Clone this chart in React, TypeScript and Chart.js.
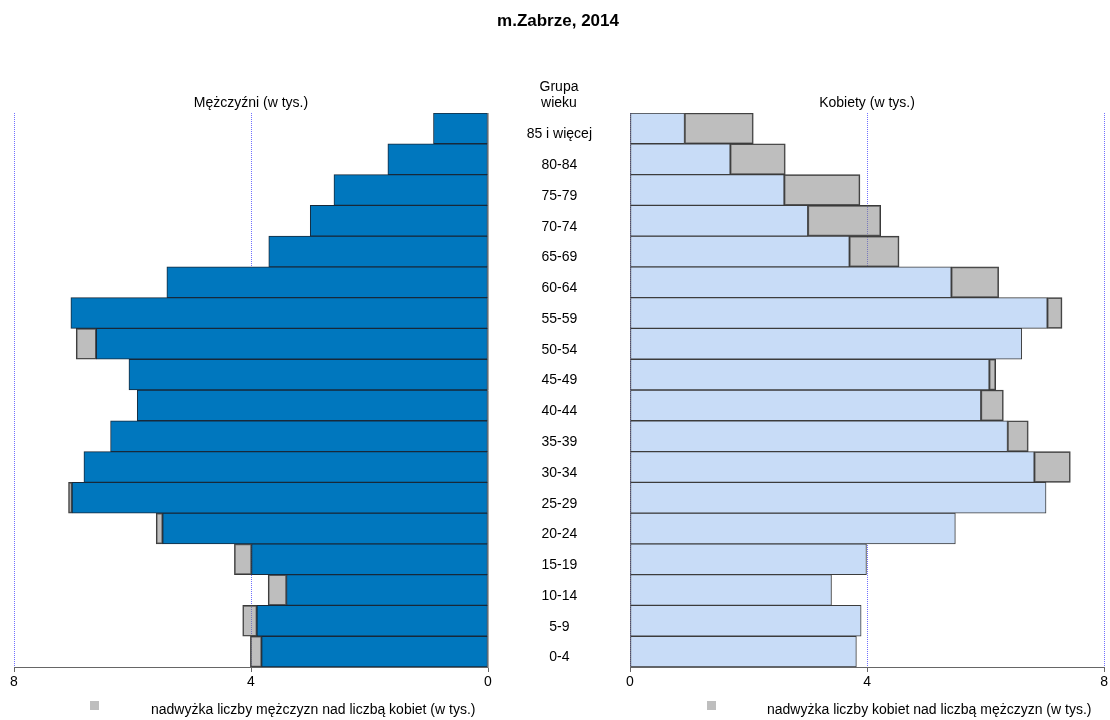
import React, { useEffect, useRef } from "react";
import { Chart, registerables } from "chart.js";

Chart.register(...registerables);

// ---- data (ascending age order; thousands) ----
const ageGroups = [
  "0-4", "5-9", "10-14", "15-19", "20-24", "25-29", "30-34", "35-39", "40-44",
  "45-49", "50-54", "55-59", "60-64", "65-69", "70-74", "75-79", "80-84", "85 i więcej",
];
const menValues = [
  4.01, 4.14, 3.71, 4.28, 5.6, 7.08, 6.82, 6.37, 5.92,
  6.06, 6.95, 7.04, 5.42, 3.7, 3.0, 2.6, 1.69, 0.92,
];
const womenValues = [
  3.82, 3.9, 3.4, 3.99, 5.49, 7.02, 7.43, 6.72, 6.3,
  6.17, 6.61, 7.29, 6.22, 4.54, 4.23, 3.88, 2.62, 2.08,
];
const xTicks = [0, 4, 8];

const commonValues = ageGroups.map((_, i) => Math.min(menValues[i], womenValues[i]));
const menExcess = ageGroups.map((_, i) =>
  menValues[i] > womenValues[i] ? menValues[i] - womenValues[i] : null
);
const womenExcess = ageGroups.map((_, i) =>
  womenValues[i] > menValues[i] ? womenValues[i] - menValues[i] : null
);

const FONT = "'Liberation Sans', Arial, sans-serif";
const GREY = "rgba(128,128,128,0.51)";

function xScale(reverse: boolean) {
  return {
    type: "linear",
    min: 0,
    max: 8,
    reverse,
    stacked: true,
    afterBuildTicks: (s: any) => {
      s.ticks = xTicks.map((v) => ({ value: v }));
    },
    ticks: {
      font: { family: FONT, size: 14 },
      color: "#000",
      padding: 2,
      maxRotation: 0,
      autoSkip: false,
    },
    grid: {
      color: "#7070ff",
      lineWidth: 1,
      drawTicks: true,
      tickLength: 5,
      tickColor: "#666",
    },
    border: { color: "#666", width: 1, dash: [1, 1] },
    afterFit: (s: any) => {
      s.height = 53;
    },
  };
}

function PyramidSide(props: { side: "left" | "right" }) {
  const ref = useRef<HTMLCanvasElement | null>(null);
  const isLeft = props.side === "left";
  useEffect(() => {
    if (!ref.current) return;
    const excess = isLeft ? menExcess : womenExcess;
    const baseColor = isLeft ? "#0077be" : "#c8dcf7";
    const baseBorder = isLeft ? "#17293a" : "#3c3c3c";
    const chart = new Chart(ref.current, {
      type: "bar",
      data: {
        labels: ageGroups,
        datasets: [
          {
            data: commonValues,
            backgroundColor: baseColor,
            borderColor: baseBorder,
            borderWidth: 1,
            borderSkipped: false,
            barPercentage: 1,
            categoryPercentage: 1,
          },
          {
            data: excess as any,
            backgroundColor: GREY,
            borderColor: "#3a3a3a",
            borderWidth: 1,
            borderSkipped: false,
            barPercentage: 1,
            categoryPercentage: 1,
          },
        ],
      },
      options: {
        indexAxis: "y",
        animation: false,
        responsive: false,
        maintainAspectRatio: false,
        layout: {
          padding: isLeft
            ? { left: 14, right: 12, top: 113, bottom: 0 }
            : { left: 0, right: 5, top: 113, bottom: 0 },
        },
        plugins: {
          legend: { display: false },
          title: { display: false },
          tooltip: { enabled: false },
        },
        scales: {
          x: xScale(isLeft) as any,
          y: isLeft
            ? ({
                type: "category",
                reverse: true,
                stacked: true,
                position: "right",
                ticks: { display: false },
                grid: { display: false, drawTicks: false },
                border: { display: true, color: "#aaa" },
                afterFit: (s: any) => {
                  s.width = 0;
                },
              } as any)
            : ({
                type: "category",
                reverse: true,
                stacked: true,
                position: "left",
                ticks: {
                  font: { family: FONT, size: 14 },
                  color: "#000",
                  crossAlign: "center",
                  padding: 38,
                  labelOffset: 6,
                  autoSkip: false,
                },
                grid: { display: false, drawTicks: false },
                border: { display: false },
                afterFit: (s: any) => {
                  s.width = 142;
                },
              } as any),
        },
      } as any,
    });
    return () => chart.destroy();
  }, []);
  const w = isLeft ? 500 : 622;
  return (
    <canvas
      ref={ref}
      width={w}
      height={720}
      style={{ position: "absolute", left: isLeft ? 0 : 488, top: 0, width: w, height: 720 }}
    />
  );
}

const textBase: React.CSSProperties = {
  position: "absolute",
  fontFamily: FONT,
  fontSize: 14,
  color: "#000",
  whiteSpace: "nowrap",
  lineHeight: "16px",
};

export default function App() {
  return (
    <div
      style={{
        position: "absolute",
        left: 0,
        top: 0,
        width: 1110,
        height: 720,
        background: "#fff",
        overflow: "hidden",
      }}
    >
      <PyramidSide side="left" />
      <PyramidSide side="right" />
      <div
        style={{
          ...textBase,
          fontSize: 17,
          fontWeight: "bold",
          lineHeight: "20px",
          left: 558,
          top: 11,
          transform: "translateX(-50%)",
        }}
      >
        m.Zabrze, 2014
      </div>
      <div style={{ ...textBase, left: 559, top: 78, transform: "translateX(-50%)", textAlign: "center" }}>
        Grupa
        <br />
        wieku
      </div>
      <div style={{ ...textBase, left: 251, top: 94, transform: "translateX(-50%)" }}>
        Mężczyźni (w tys.)
      </div>
      <div style={{ ...textBase, left: 867, top: 94, transform: "translateX(-50%)" }}>
        Kobiety (w tys.)
      </div>
      <div style={{ position: "absolute", left: 90, top: 701, width: 9, height: 9, background: "#bebebe" }} />
      <div style={{ ...textBase, left: 151, top: 701 }}>
        nadwyżka liczby mężczyzn nad liczbą kobiet (w tys.)
      </div>
      <div style={{ position: "absolute", left: 707, top: 701, width: 9, height: 9, background: "#bebebe" }} />
      <div style={{ ...textBase, left: 767, top: 701 }}>
        nadwyżka liczby kobiet nad liczbą mężczyzn (w tys.)
      </div>
    </div>
  );
}
